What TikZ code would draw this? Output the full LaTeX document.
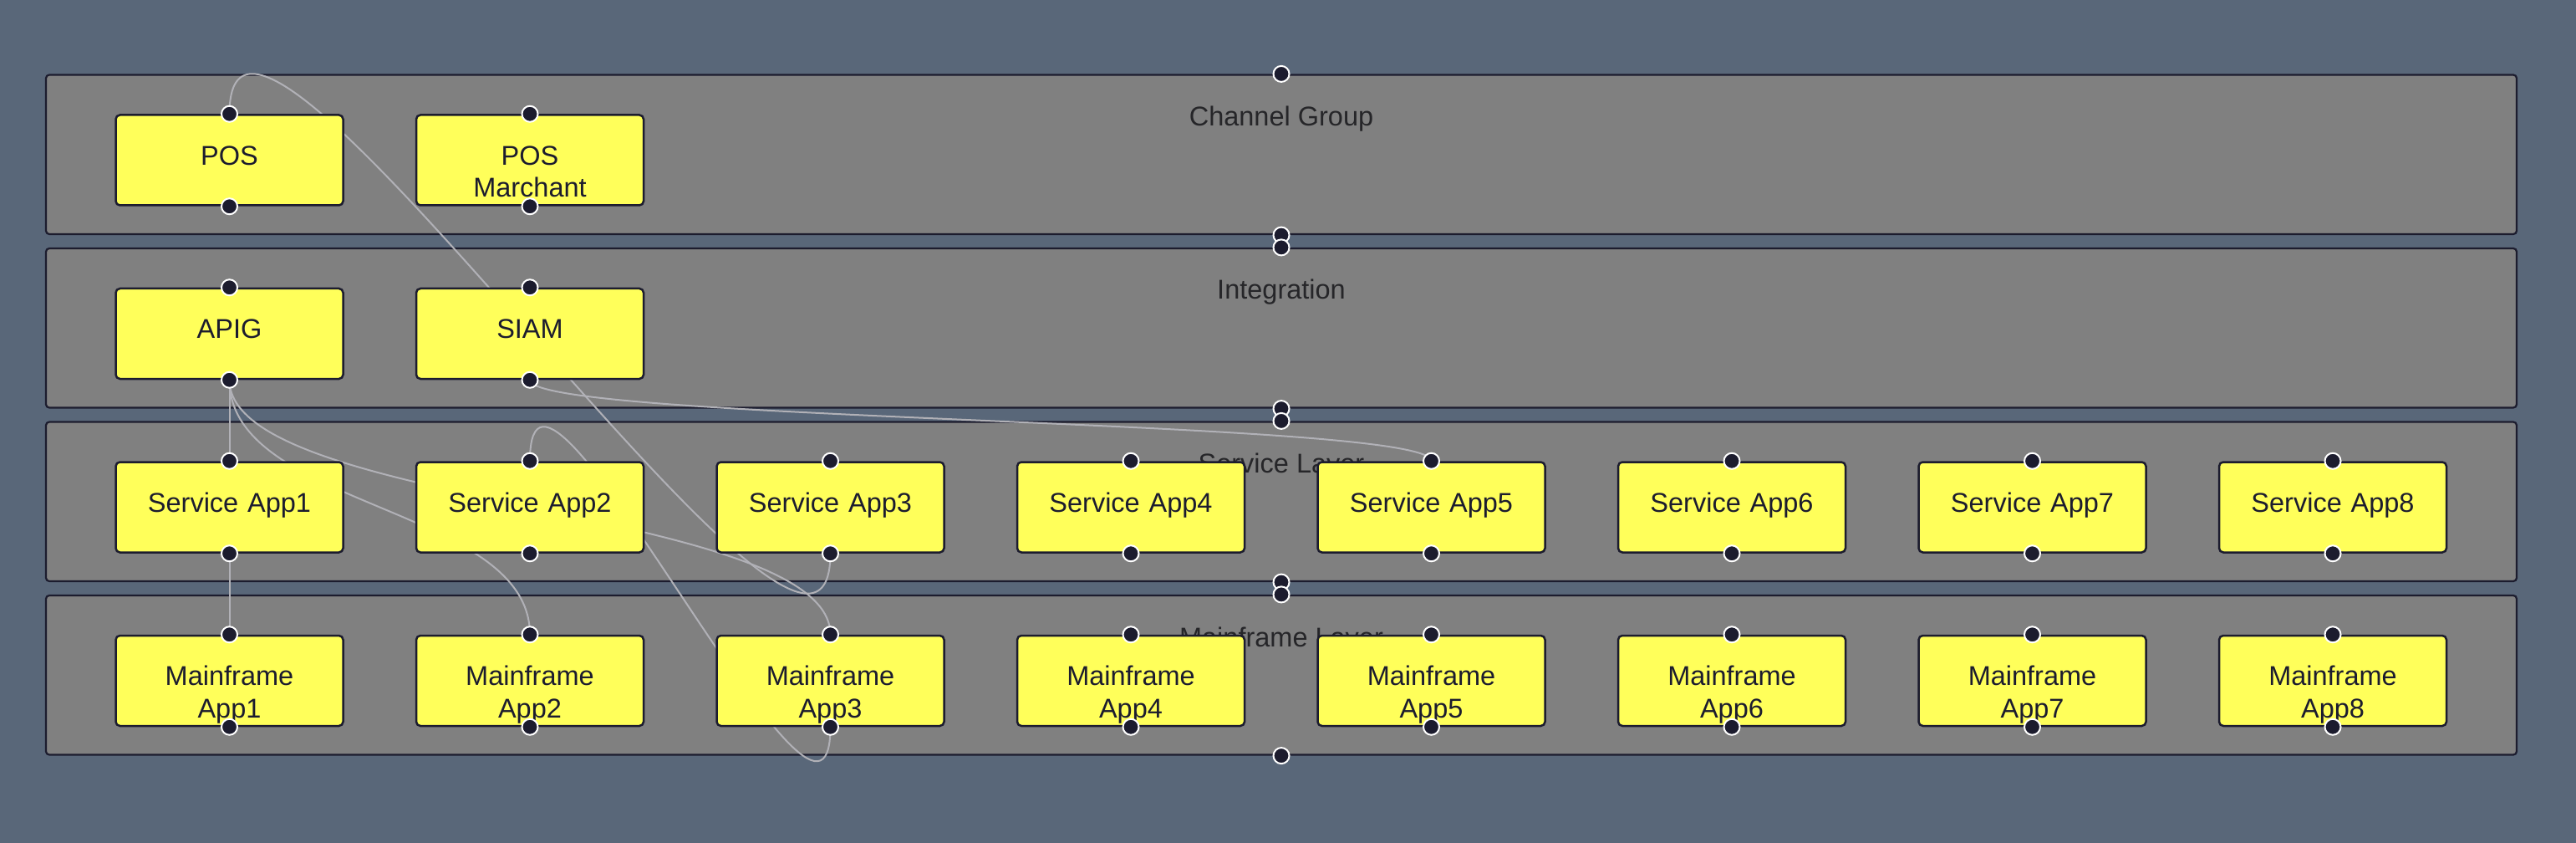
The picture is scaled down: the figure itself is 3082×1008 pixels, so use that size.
\documentclass[tikz,border=0pt]{standalone}
\usepackage{fontspec}
\setmainfont{Liberation Sans}
\usetikzlibrary{calc}
\definecolor{bg}{HTML}{596779}
\definecolor{grp}{HTML}{808080}
\definecolor{ink}{HTML}{1C1C2E}
\definecolor{nodefill}{HTML}{FFFF5A}
\definecolor{edgec}{HTML}{B1B1B7}
\definecolor{lbl}{HTML}{262629}
\pgfdeclarelayer{grplayer}
\pgfdeclarelayer{edgelayer}
\pgfsetlayers{grplayer,edgelayer,main}
\begin{document}
\begin{tikzpicture}[x=1pt,y=-1pt,
  grpbox/.style={draw=ink, line width=2.2pt, fill=grp, rounded corners=4pt, minimum width=2956pt, minimum height=190.5pt, inner sep=0pt},
  grplabel/.style={anchor=base, text=lbl, font=\fontsize{32.5}{38.5}\selectfont, inner sep=0pt},
  appbox/.style={draw=ink, line width=2.5pt, fill=nodefill, rounded corners=5pt, minimum width=272pt, minimum height=108pt, inner sep=0pt},
  apptext/.style={anchor=base, text=ink, font=\fontsize{32.5}{38.5}\selectfont, align=center, text width=270pt, inner sep=0pt},
  port/.style={circle, fill=ink, draw=white, line width=2pt, minimum size=19pt, inner sep=0pt},
  conn/.style={draw=edgec, line width=2pt}
]
\begin{pgfonlayer}{grplayer}
\fill[bg] (0,0) rectangle (3082,1008);
\node[grpbox] (cg) at (1533,184.75) {};
\node[grpbox] (ig) at (1533,392.25) {};
\node[grpbox] (sl) at (1533,599.75) {};
\node[grpbox] (ml) at (1533,807.25) {};
\node[grplabel] (cgl) at (1533,150.5) {Channel Group};
\node[grplabel] (igl) at (1533,358) {Integration};
\node[grplabel] (sll) at (1533,565.5) {Service Layer};
\node[grplabel] (mll) at (1533,773) {Mainframe Layer};
\end{pgfonlayer}
\useasboundingbox (0,0) rectangle (3082,1008);

% row 1 and 2
\node[appbox] (pos) at (274.5,191.5) {};
\node[apptext] (post) at (274.5,197.2) {POS};
\node[appbox] (posm) at (634,191.5) {};
\node[apptext] (posmt) at (634,197.2) {POS\\Marchant};
\node[appbox] (apig) at (274.5,399) {};
\node[apptext] (apigt) at (274.5,404.7) {APIG};
\node[appbox] (siam) at (634,399) {};
\node[apptext] (siamt) at (634,404.7) {SIAM};
\foreach \n in {pos,posm,apig,siam}{
  \node[port] (\n T) at (\n.north) {};
  \node[port] (\n B) at (\n.south) {};
}
% rows 3 and 4
\foreach \i [evaluate=\i as \cx using 274.5+359.5*(\i-1)] in {1,...,8}{
  \node[appbox] (sa\i) at (\cx,606.5) {};
  \node[apptext] (sa\i t) at (\cx,612.2) {Service App\i};
  \node[port] (sa\i T) at (sa\i.north) {};
  \node[port] (sa\i B) at (sa\i.south) {};
  \node[appbox] (ma\i) at (\cx,814) {};
  \node[apptext] (ma\i t) at (\cx,819.7) {Mainframe\\App\i};
  \node[port] (ma\i T) at (ma\i.north) {};
  \node[port] (ma\i B) at (ma\i.south) {};
}
% group ports
\foreach \g in {cg,ig,sl,ml}{
  \node[port] (\g T) at (\g.north) {};
  \node[port] (\g B) at (\g.south) {};
}

\begin{pgfonlayer}{edgelayer}
\draw[conn] (pos.north) .. controls +(0,-285.9) and +(0,285.9) .. (sa3.south);
\draw[conn] (apig.south) -- (sa1.north);
\draw[conn] (apig.south) .. controls +(0,153.75) and +(0,-153.75) .. (ma2.north);
\draw[conn] (apig.south) .. controls +(0,153.75) and +(0,-153.75) .. (ma3.north);
\draw[conn] (sa2.north) .. controls +(0,-222) and +(0,222) .. (ma3.south);
\draw[conn] (siam.south) .. controls +(0,50) and +(0,-50) .. (sa5.north);
\draw[conn] (sa1.south) -- (ma1.north);
\end{pgfonlayer}
\end{tikzpicture}
\end{document}
